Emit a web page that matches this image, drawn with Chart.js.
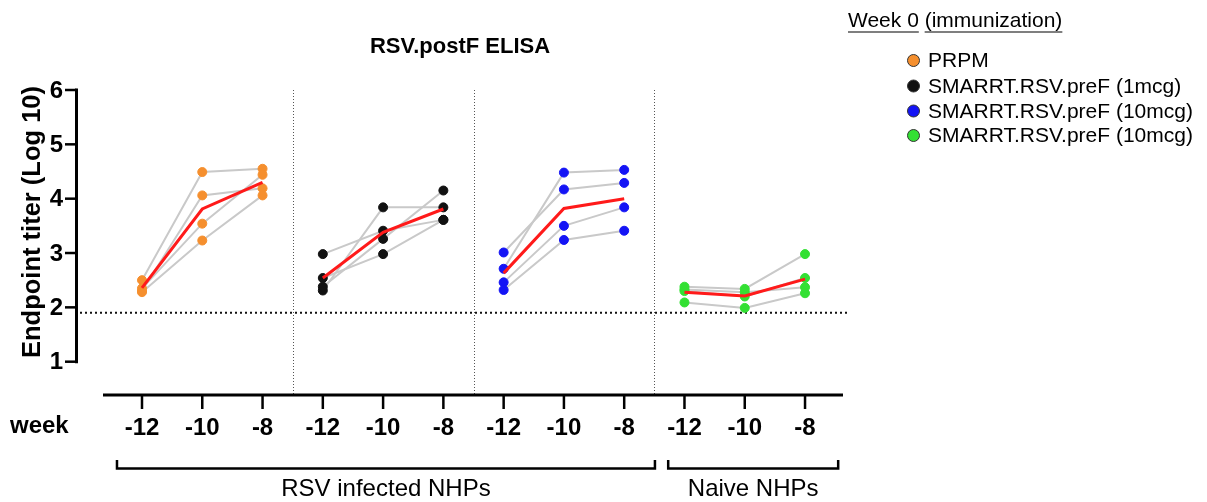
<!DOCTYPE html>
<html>
<head>
<meta charset="utf-8">
<script src="https://cdn.jsdelivr.net/npm/chart.js@4.4.1/dist/chart.umd.min.js"></script>
<style>
  body { margin: 0; background: #fff; }
</style>
</head>
<body>
<canvas id="elisaChart" width="1207" height="502"></canvas>
<script>
// weeks shown under every group
var weekLabels = ['-12', '-10', '-8'];
var yTicks = [1, 2, 3, 4, 5, 6];
var detectionLimit = 1.9;

var groupNames = ['PRPM', 'SMARRT.RSV.preF (1mcg)', 'SMARRT.RSV.preF (10mcg)', 'SMARRT.RSV.preF (10mcg)'];
var groupColors = ['#f58f2e', '#111111', '#1414f5', '#33e033'];
var cohortLabels = ['RSV infected NHPs', 'Naive NHPs'];

// log10 endpoint titers, one row per animal (week -12, -10, -8)
var prpmTiters = [[2.50, 4.49, 4.55], [2.30, 4.06, 4.19], [2.35, 3.54, 4.44], [2.28, 3.23, 4.06]];
var smarrt1Titers = [[2.98, 3.41, 3.61], [2.31, 3.84, 3.84], [2.38, 3.26, 4.15], [2.54, 2.98, 3.61]];
var smarrt10Titers = [[3.01, 4.17, 4.29], [2.71, 4.48, 4.53], [2.46, 3.50, 3.84], [2.32, 3.24, 3.41]];
var naiveTiters = [[2.38, 2.34, 2.98], [2.33, 2.28, 2.37], [2.30, 2.20, 2.54], [2.09, 1.99, 2.26]];

// group means (red line)
var prpmMean = [2.36, 3.81, 4.30];
var smarrt1Mean = [2.54, 3.38, 3.81];
var smarrt10Mean = [2.63, 3.82, 4.00];
var naiveMean = [2.28, 2.21, 2.52];

var allTiters = [prpmTiters, smarrt1Titers, smarrt10Titers, naiveTiters];
var allMeans = [prpmMean, smarrt1Mean, smarrt10Mean, naiveMean];

function toPoints(values, group) {
    return values.map(function (v, i) { return { x: group * 3 + i, y: v }; });
}

var datasets = [];

// points on top, then mean line, then grey animal lines
allTiters.forEach(function (rows, g) {
    var pts = [];
    rows.forEach(function (row) { pts = pts.concat(toPoints(row, g)); });
    datasets.push({
        data: pts,
        showLine: false,
        pointRadius: 4.5,
        pointBackgroundColor: groupColors[g],
        pointBorderColor: groupColors[g],
        pointBorderWidth: 1,
        order: 1
    });
});

allMeans.forEach(function (m, g) {
    datasets.push({
        data: toPoints(m, g),
        showLine: true,
        borderColor: '#ff1a1a',
        borderWidth: 3,
        pointRadius: 0,
        order: 0
    });
});

allTiters.forEach(function (rows, g) {
    rows.forEach(function (row) {
        datasets.push({
            data: toPoints(row, g),
            showLine: true,
            borderColor: '#c9c9c9',
            borderWidth: 2,
            pointRadius: 0,
            order: 2
        });
    });
});

var boldFont = 'bold 24px "Liberation Sans", Arial, sans-serif';
var plainFont = '24px "Liberation Sans", Arial, sans-serif';

function hline(ctx, x1, x2, y) { ctx.beginPath(); ctx.moveTo(x1, y); ctx.lineTo(x2, y); ctx.stroke(); }
function vline(ctx, x, y1, y2) { ctx.beginPath(); ctx.moveTo(x, y1); ctx.lineTo(x, y2); ctx.stroke(); }

var prismFrame = {
    id: 'prismFrame',
    beforeDatasetsDraw: function (chart) {
        var ctx = chart.ctx, xs = chart.scales.x, ys = chart.scales.y;
        ctx.save();
        // group separators
        ctx.strokeStyle = '#555';
        ctx.lineWidth = 1;
        ctx.setLineDash([1, 2]);
        [2.5, 5.5, 8.5].forEach(function (v) {
            var px = Math.round(xs.getPixelForValue(v)) + 0.5;
            vline(ctx, px, ys.top, ys.bottom);
        });
        // limit of detection
        ctx.strokeStyle = '#111';
        ctx.lineWidth = 2;
        ctx.setLineDash([2, 3]);
        hline(ctx, 80, xs.right + 4, ys.getPixelForValue(detectionLimit));
        ctx.restore();
    },
    afterDraw: function (chart) {
        var ctx = chart.ctx, xs = chart.scales.x, ys = chart.scales.y;
        ctx.save();
        ctx.strokeStyle = '#000';
        ctx.fillStyle = '#000';

        // y axis
        var axisX = 76.5;
        ctx.lineWidth = 3;
        vline(ctx, axisX, ys.getPixelForValue(6) - 1.5, ys.getPixelForValue(1) + 1.5);
        ctx.lineWidth = 2.5;
        ctx.font = boldFont;
        ctx.textAlign = 'right';
        ctx.textBaseline = 'middle';
        yTicks.forEach(function (t) {
            var py = ys.getPixelForValue(t);
            hline(ctx, 65, axisX, py);
            ctx.fillText(String(t), 63, py + 1);
        });

        // y title
        ctx.save();
        ctx.translate(33, 222);
        ctx.rotate(-Math.PI / 2);
        ctx.textAlign = 'center';
        ctx.font = 'bold 25.5px "Liberation Sans", Arial, sans-serif';
        ctx.fillText('Endpoint titer (Log 10)', 0, 0);
        ctx.restore();

        // x axis
        var axisY = 395;
        ctx.lineWidth = 3;
        hline(ctx, xs.left, xs.right, axisY);
        ctx.lineWidth = 2.5;
        ctx.textAlign = 'center';
        for (var i = 0; i < 12; i++) {
            var px = xs.getPixelForValue(i);
            vline(ctx, px, axisY, 409);
            ctx.fillText(weekLabels[i % 3], px, 428);
        }
        ctx.textAlign = 'left';
        ctx.fillText('week', 10, 426);

        // title
        ctx.textAlign = 'center';
        ctx.font = 'bold 22px "Liberation Sans", Arial, sans-serif';
        ctx.fillText('RSV.postF ELISA', 460, 47);

        // cohort brackets
        ctx.lineWidth = 2.5;
        var spans = [[-0.415, 8.51], [8.73, 11.55]];
        ctx.font = plainFont;
        spans.forEach(function (s, k) {
            var a = xs.getPixelForValue(s[0]), b = xs.getPixelForValue(s[1]);
            ctx.beginPath();
            ctx.moveTo(a, 460); ctx.lineTo(a, 468.5); ctx.lineTo(b, 468.5); ctx.lineTo(b, 460);
            ctx.stroke();
            ctx.fillText(cohortLabels[k], (a + b) / 2, 489);
        });

        // legend
        ctx.textAlign = 'left';
        ctx.font = '21px "Liberation Sans", Arial, sans-serif';
        var head = 'Week 0 (immunization)';
        ctx.fillText(head, 848, 21);
        ctx.lineWidth = 1.2;
        var w1 = ctx.measureText('Week 0').width;
        var w2 = ctx.measureText('Week 0 ').width;
        var w3 = ctx.measureText(head).width;
        hline(ctx, 848, 848 + w1, 32);
        hline(ctx, 848 + w2, 848 + w3, 32);
        var rows = [60.5, 86, 111, 135.5];
        groupNames.forEach(function (name, g) {
            ctx.beginPath();
            ctx.arc(913.5, rows[g], 6, 0, Math.PI * 2);
            ctx.fillStyle = groupColors[g];
            ctx.fill();
            ctx.lineWidth = 1;
            ctx.strokeStyle = '#333';
            ctx.stroke();
            ctx.fillStyle = '#000';
            ctx.fillText(name, 928, rows[g] + 1);
        });
        ctx.restore();
    }
};

new Chart(document.getElementById('elisaChart'), {
    type: 'scatter',
    data: { datasets: datasets },
    options: {
        responsive: false,
        animation: false,
        devicePixelRatio: 1,
        layout: { padding: { left: 103, right: 364, top: 90, bottom: 107 } },
        scales: {
            x: { type: 'linear', min: -0.647, max: 11.63, display: false },
            y: { type: 'linear', min: 0.387, max: 6, display: false }
        },
        plugins: {
            legend: { display: false },
            tooltip: { enabled: false }
        }
    },
    plugins: [prismFrame]
});
</script>
</body>
</html>
